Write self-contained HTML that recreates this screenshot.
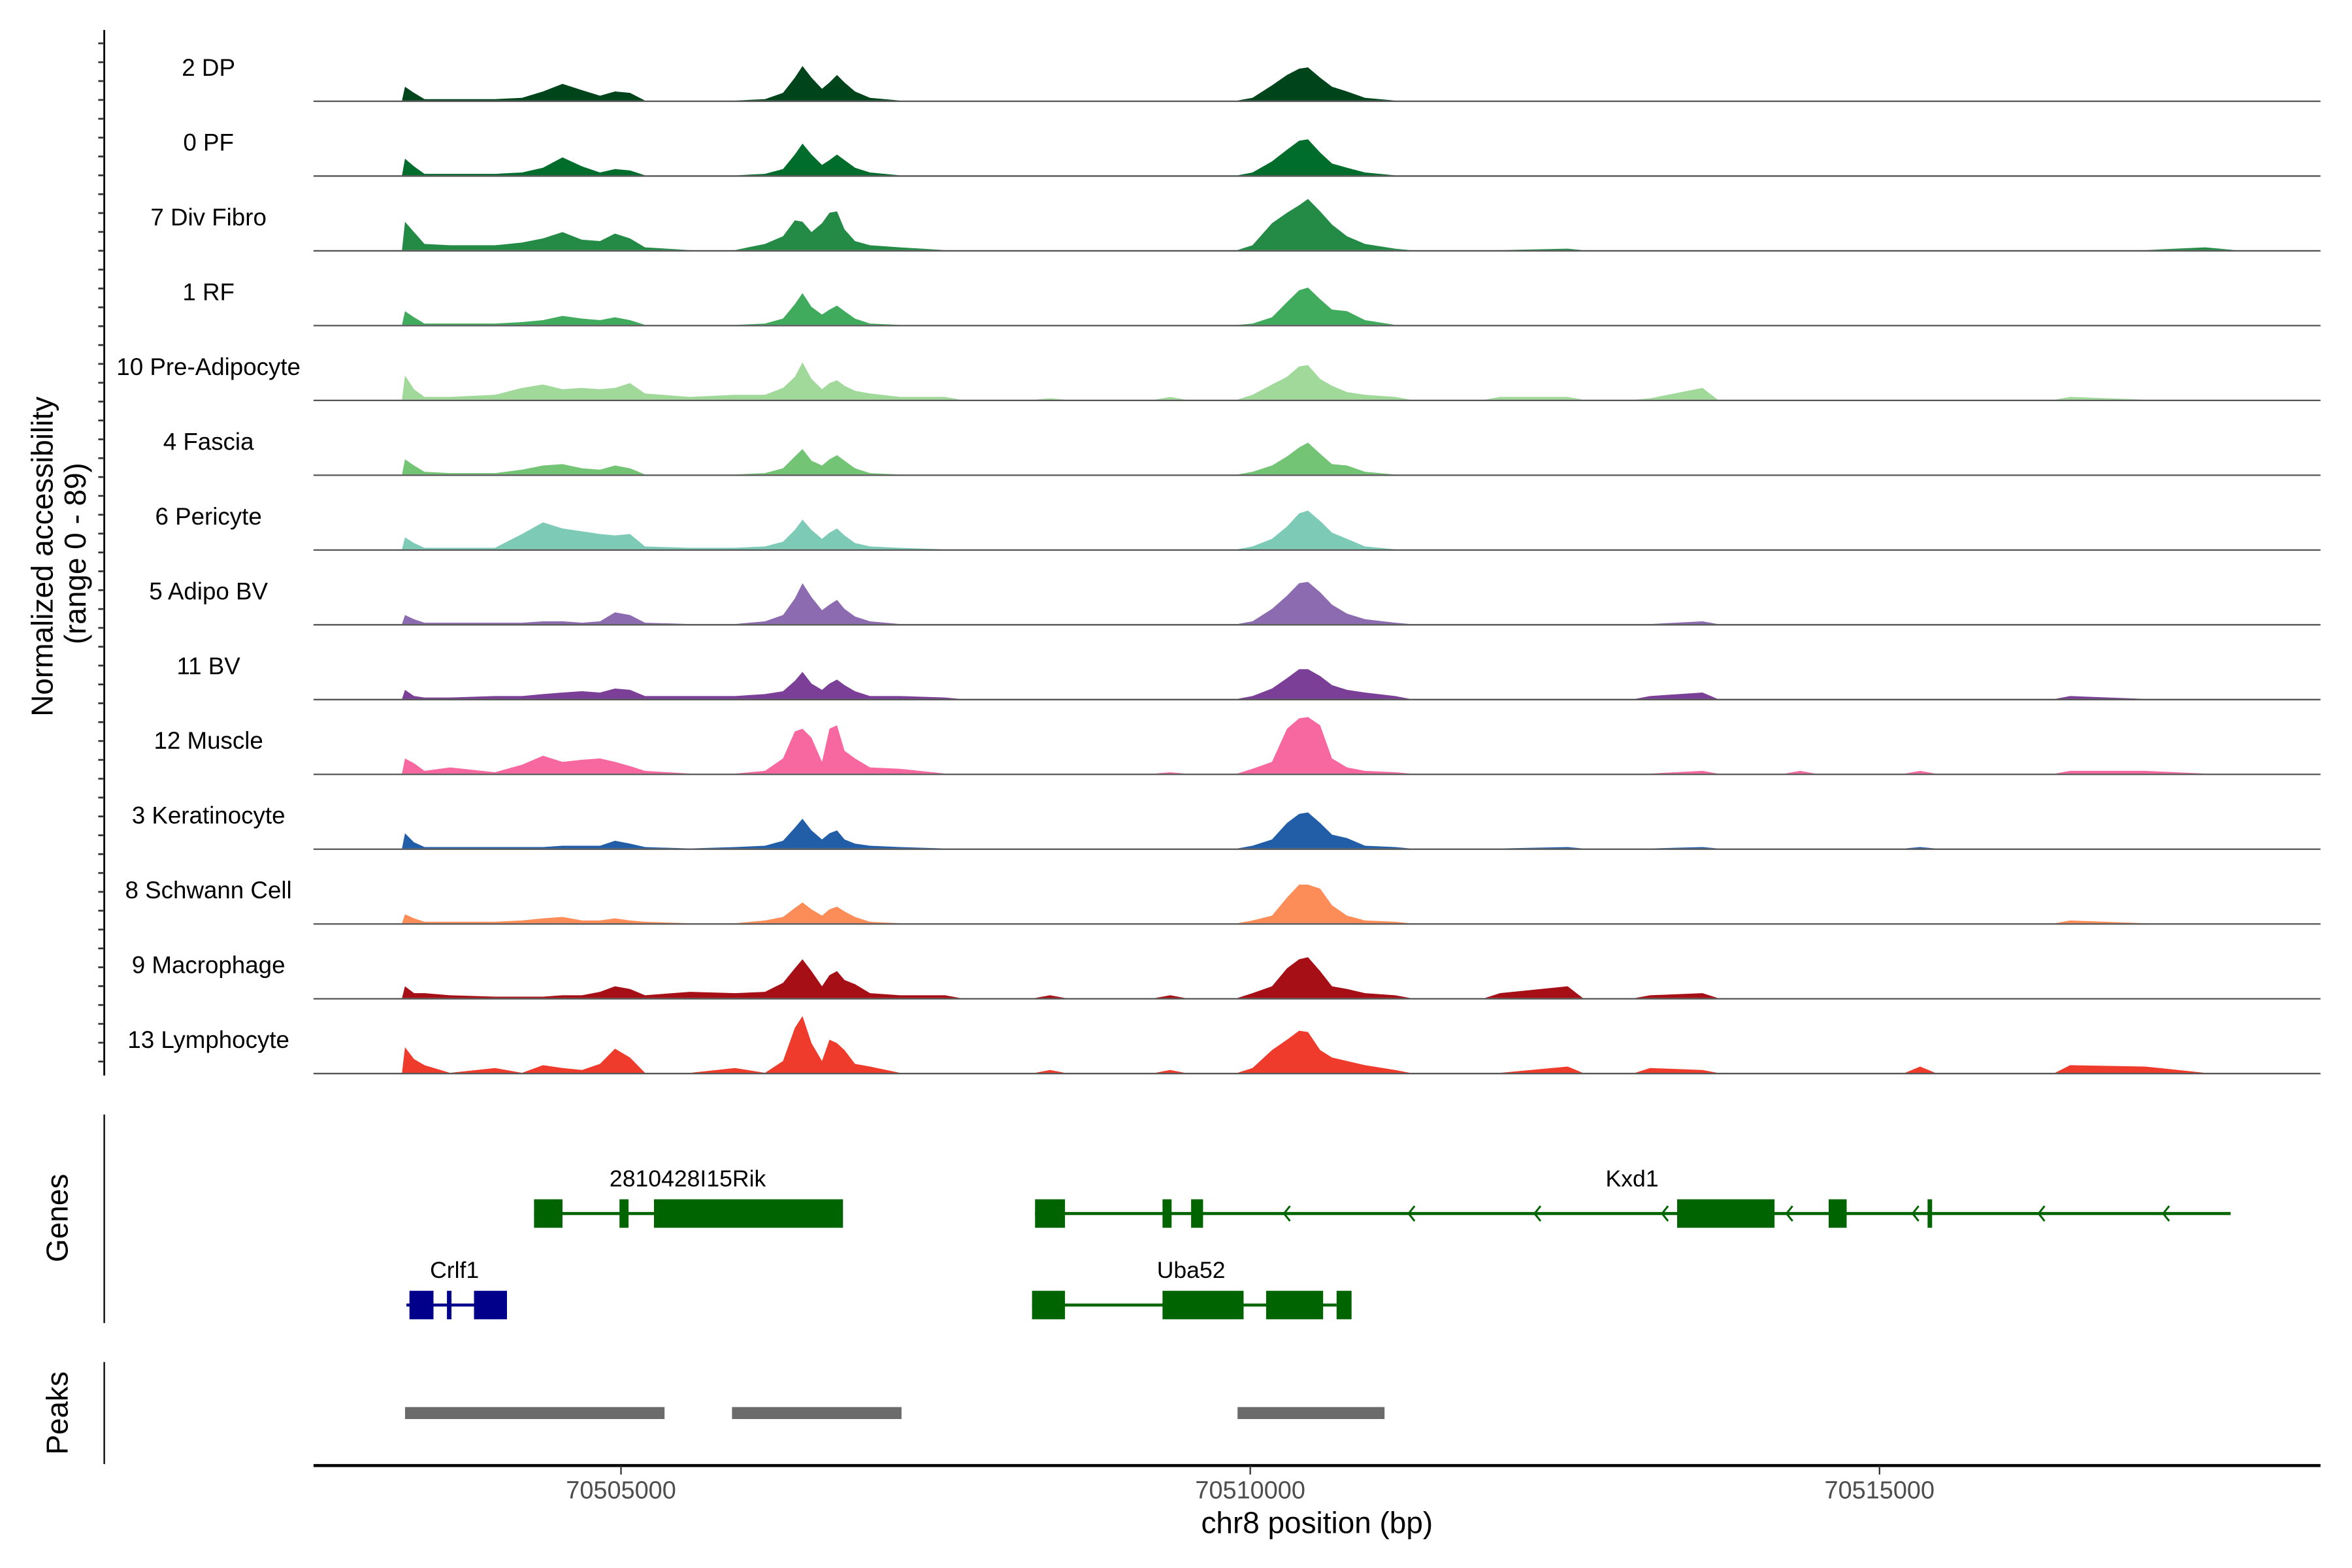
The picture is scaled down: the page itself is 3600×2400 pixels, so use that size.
<!DOCTYPE html>
<html><head><meta charset="utf-8">
<style>html,body{margin:0;padding:0;background:#fff}svg{display:block}text{font-family:"Liberation Sans",sans-serif}</style>
</head><body>
<svg id="chart" xmlns="http://www.w3.org/2000/svg" width="3600" height="2400" viewBox="0 0 1568 1045.3" preserveAspectRatio="none">
<rect width="1568" height="1046" fill="#fff"/>
<g id="tracks"></g>
<g id="yaxis"></g>
<text transform="translate(35,371) rotate(-90)" text-anchor="middle" font-size="20">Normalized accessibility</text>
<text transform="translate(57,369) rotate(-90)" text-anchor="middle" font-size="20">(range 0 - 89)</text>
<line x1="69.5" y1="743" x2="69.5" y2="882" stroke="#000" stroke-width="1"/>
<text transform="translate(45,812) rotate(-90)" text-anchor="middle" font-size="20">Genes</text>
<line x1="69.5" y1="908" x2="69.5" y2="976" stroke="#000" stroke-width="1"/>
<text transform="translate(45,942) rotate(-90)" text-anchor="middle" font-size="20">Peaks</text>
<g id="genes"></g>
<g id="peaks"></g>
<line x1="209" y1="977" x2="1547" y2="977" stroke="#000" stroke-width="2"/>
<g id="xaxis"></g>
<text x="878" y="1022" text-anchor="middle" font-size="20">chr8 position (bp)</text>
</svg>
<script>
const NS="http://www.w3.org/2000/svg";
const positions=[70503260,70503284,70503355,70503439,70503641,70503999,70504213,70504380,70504535,70504690,70504833,70504952,70505072,70505191,70505548,70505906,70506144,70506287,70506382,70506442,70506514,70506597,70506657,70506716,70506776,70506859,70506979,70507217,70507575,70508409,70509363,70510018,70510173,70510292,70510388,70510459,70510555,70510650,70510769,70510912,70511151,70511985,70512522,70513177,70513594,70514369,70515323,70516515,70517111,70517588,70517826];
const trackNames=["2 DP","0 PF","7 Div Fibro","1 RF","10 Pre-Adipocyte","4 Fascia","6 Pericyte","5 Adipo BV","11 BV","12 Muscle","3 Keratinocyte","8 Schwann Cell","9 Macrophage","13 Lymphocyte"];
const trackColors=["#00441b","#006d2c","#238b45","#41ab5d","#a1d99b","#74c476","#7dcbb7","#8c6bb1","#7b3f98","#f768a1","#225ea8","#fc8d59","#a50f15","#ef3b2c"];
const valsDP=[0,20,11,2,2,2,4,13,24,15,7,13,11,0,0,0,2,11,33,50,33,17,26,37,26,13,4,0,0,0,0,4,22,37,46,48,33,20,13,4,0,0,0,0,0,0,0,0,0,0,0];
const valsPF=[0,24,13,2,2,2,4,11,26,13,4,9,7,0,0,0,2,9,30,46,30,15,22,30,22,11,4,0,0,0,0,4,20,37,50,52,33,17,11,4,0,0,0,0,0,0,0,0,0,0,0];
const valsDivFibro=[0,41,26,9,7,7,11,17,26,15,13,24,17,4,0,0,9,20,43,41,26,39,54,56,30,13,7,4,0,0,0,7,39,54,65,74,56,37,20,9,2,0,2,0,0,0,0,0,0,4,0];
const valsRF=[0,20,11,2,2,2,4,7,13,9,7,11,7,0,0,0,2,9,30,46,26,15,22,28,20,9,2,0,0,0,0,2,11,33,50,54,37,22,20,7,0,0,0,0,0,0,0,0,0,0,0];
const valsPreAdipo=[0,35,15,4,4,7,17,22,15,17,15,17,24,9,4,7,7,17,33,54,30,15,24,28,20,13,9,4,4,2,4,7,22,33,48,50,30,20,11,7,4,4,4,2,17,0,0,4,0,0,0];
const valsFascia=[0,22,13,4,2,2,7,13,15,9,7,13,9,0,0,0,2,9,26,37,20,13,22,28,20,9,2,0,0,0,0,4,13,26,39,46,30,15,13,4,0,0,0,0,0,0,0,0,0,0,0];
const valsPericyte=[0,17,9,2,2,2,22,39,30,26,22,20,22,4,2,2,4,11,28,43,28,15,24,30,20,9,4,2,0,0,0,4,15,33,52,56,41,24,15,4,0,0,0,0,0,0,0,0,0,0,0];
const valsAdipoBV=[0,13,7,2,2,2,2,4,4,2,4,17,13,2,0,0,4,13,37,59,39,20,28,35,22,11,4,0,0,0,0,4,22,41,59,61,46,28,15,7,2,0,0,0,4,0,0,0,0,0,0];
const valsBV=[0,13,4,2,2,4,4,7,9,11,9,15,13,4,4,4,7,11,26,39,22,13,22,28,20,11,4,4,2,0,0,4,15,30,43,43,33,20,13,9,4,0,0,4,9,0,0,4,0,0,0];
const valsMuscle=[0,22,15,4,9,2,13,26,17,20,22,17,11,4,0,0,4,22,61,65,52,17,65,70,33,22,9,7,0,0,2,7,17,65,80,82,70,22,9,4,2,0,0,0,4,4,4,4,4,0,0];
const valsKera=[0,22,9,2,2,2,2,2,4,4,4,11,7,2,0,2,4,11,30,43,26,13,22,26,13,7,4,2,0,0,0,4,13,37,50,52,37,20,15,4,2,0,2,0,2,0,2,0,0,0,0];
const valsSchwann=[0,13,7,2,2,2,4,7,9,4,4,7,4,2,0,0,4,9,22,30,20,11,20,24,17,9,2,0,0,0,0,4,11,37,56,56,50,26,11,4,2,0,0,0,0,0,0,4,0,0,0];
const valsMacro=[0,17,7,7,4,2,2,2,4,4,9,17,13,4,9,7,9,22,43,56,39,17,33,39,26,20,7,4,4,4,4,7,17,43,56,59,39,17,13,7,4,7,17,4,7,0,0,0,0,0,0];
const valsLymph=[0,37,20,11,0,7,0,11,7,4,13,35,22,0,0,7,0,17,65,82,43,17,48,43,33,13,9,0,0,4,4,7,33,48,61,59,33,22,17,11,4,0,9,7,4,0,9,11,9,0,0];
const trackValues=[valsDP,valsPF,valsDivFibro,valsRF,valsPreAdipo,valsFascia,valsPericyte,valsAdipoBV,valsBV,valsMuscle,valsKera,valsSchwann,valsMacro,valsLymph];
const xTicks=[70505000,70510000,70515000];
const xTickLabels=["70505000","70510000","70515000"];
const geneNames=["2810428I15Rik","Kxd1","Crlf1","Uba52"];
const geneStarts=[70504309,70508290,70503295,70508266];
const geneEnds=[70505262,70517790,70504094,70510686];
const geneRows=[0,0,1,1];
const geneColors=["#006400","#006400","#00008b","#006400"];
const geneLabelPos=[70505530,70513034,70503677,70509530];
const geneExons=[[[70504309,70504535],[70504988,70505060],[70505262,70506764]],[[70508290,70508528],[70509303,70509375],[70509530,70509625],[70513392,70514166],[70514596,70514739],[70515382,70515418]],[[70503319,70503510],[70503617,70503653],[70503832,70504094]],[[70508266,70508528],[70509303,70509947],[70510126,70510579],[70510686,70510805]]];
const geneArrows=[[],[70510292,70511282,70512283,70513296,70514285,70515287,70516288,70517278],[],[]];
const peakStarts=[70503284,70505882,70509899];
const peakEnds=[70505346,70507229,70511067];
const YMAX=89;

function xScale(bp){return 414+(bp-70505000)*0.0839;}
function baseY(i){return 67+i*49.86;}
function yScale(v,i){return baseY(i)-v/YMAX*41;}
function mk(tag,attrs,parent){const e=document.createElementNS(NS,tag);for(const k in attrs)e.setAttribute(k,attrs[k]);parent.appendChild(e);return e;}

const tg=document.getElementById('tracks');
trackNames.forEach((name,i)=>{
  const g=mk('g',{},tg);
  
  
  const vals=trackValues[i];const n=Math.min(vals.length,positions.length);
  const by=baseY(i).toFixed(1);
  let d='M'+xScale(positions[0]).toFixed(1)+','+by;
  for(let k=0;k<n;k++){
    if(k>0 && positions[k]-positions[k-1]>600){
      d+='L'+xScale(positions[k-1]+120).toFixed(1)+','+by;
      d+='L'+xScale(positions[k]-120).toFixed(1)+','+by;
    }
    d+='L'+xScale(positions[k]).toFixed(1)+','+yScale(vals[k],i).toFixed(1);
  }
  d+='L'+xScale(positions[n-1]).toFixed(1)+','+by+'Z';
  const p=mk('path',{d:d,fill:trackColors[i]},g);
  
  
  const l=mk('line',{x1:209,x2:1547,y1:baseY(i)+0.5,y2:baseY(i)+0.5,stroke:'#555','stroke-width':1},g);
  
  
  const t=mk('text',{x:139,y:baseY(i)-16.5,'text-anchor':'middle','font-size':16,fill:'#000'},g);
  t.textContent=name;
  
  
});

const ya=document.getElementById('yaxis');
const al=mk('line',{x1:69.5,y1:20,x2:69.5,y2:717,stroke:'#000','stroke-width':1.2},ya);


for(let y=28.9;y<717;y+=12.57){
  const tk=mk('line',{x1:65.5,x2:69.5,y1:y,y2:y,stroke:'#333','stroke-width':1.2},ya);
  
  
}

const gg=document.getElementById('genes');
geneNames.forEach((name,i)=>{
  const g=mk('g',{},gg);
  
  
  const cy=geneRows[i]===0?809:870;const c=geneColors[i];
  mk('line',{x1:xScale(geneStarts[i]),x2:xScale(geneEnds[i]),y1:cy,y2:cy,stroke:c,'stroke-width':2},g);
  geneExons[i].forEach(ex=>{
    const r=mk('rect',{x:xScale(ex[0]),y:cy-9.5,width:Math.max(2,xScale(ex[1])-xScale(ex[0])),height:19,fill:c},g);
    
    
  });
  geneArrows[i].forEach(a=>{
    const x=xScale(a);
    mk('path',{d:`M${x+2},${cy-5}L${x-2},${cy}L${x+2},${cy+5}`,fill:'none',stroke:c,'stroke-width':1.3},g);
  });
  const t=mk('text',{x:xScale(geneLabelPos[i]),y:cy-18,'text-anchor':'middle','font-size':15.5,fill:'#000'},g);
  t.textContent=name;
  
  
});

const pg=document.getElementById('peaks');
peakStarts.forEach((s,i)=>{
  const r=mk('rect',{x:xScale(s),y:938,width:xScale(peakEnds[i])-xScale(s),height:8,fill:'#6b6b6b'},pg);
  
  
});

const xa=document.getElementById('xaxis');
xTicks.forEach((v,i)=>{
  const x=xScale(v);
  const tk=mk('line',{x1:x,x2:x,y1:977,y2:983,stroke:'#333','stroke-width':1},xa);
  
  
  const t=mk('text',{x:x,y:999,'text-anchor':'middle','font-size':16.5,fill:'#4d4d4d'},xa);
  t.textContent=xTickLabels[i];
  
  
});
</script>
</body></html>
